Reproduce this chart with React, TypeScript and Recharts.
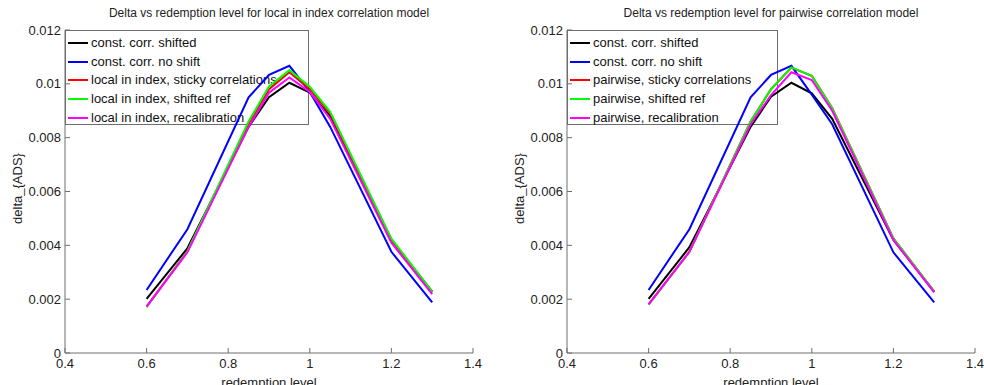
import React from 'react';
import { LineChart, Line, XAxis, YAxis } from 'recharts';

const LEVELS = [0.6, 0.7, 0.85, 0.9, 0.95, 1.0, 1.05, 1.2, 1.3];
const X_TICKS = [0.4, 0.6, 0.8, 1, 1.2, 1.4];
const Y_TICKS = [0, 0.002, 0.004, 0.006, 0.008, 0.01, 0.012];

// local in index correlation model
const LOCAL_CONST_SHIFTED = [0.00201, 0.00389, 0.0084, 0.0095, 0.01004, 0.00967, 0.0088, 0.0042, 0.00228];
const LOCAL_CONST_NO_SHIFT = [0.00234, 0.0046, 0.0095, 0.01033, 0.01067, 0.0097, 0.0084, 0.00376, 0.00188];
const LOCAL_STICKY = [0.00172, 0.00378, 0.0085, 0.0098, 0.01043, 0.0098, 0.0089, 0.0042, 0.00225];
const LOCAL_SHIFTED_REF = [0.0017, 0.00378, 0.0086, 0.0099, 0.01051, 0.00989, 0.00896, 0.00425, 0.00228];
const LOCAL_RECALIB = [0.00172, 0.00374, 0.0084, 0.00967, 0.01024, 0.0097, 0.0087, 0.0041, 0.00219];

// pairwise correlation model
const PAIR_CONST_SHIFTED = [0.00201, 0.00393, 0.0084, 0.00952, 0.01004, 0.00965, 0.0087, 0.0042, 0.00228];
const PAIR_CONST_NO_SHIFT = [0.00234, 0.0046, 0.0095, 0.01033, 0.01067, 0.0096, 0.0085, 0.00374, 0.00188];
const PAIR_STICKY = [0.00181, 0.00376, 0.0086, 0.0098, 0.0106, 0.0103, 0.0091, 0.00426, 0.00228];
const PAIR_SHIFTED_REF = [0.0018, 0.00376, 0.0086, 0.0098, 0.01061, 0.01029, 0.00909, 0.00426, 0.00228];
const PAIR_RECALIB = [0.00181, 0.00376, 0.0085, 0.00958, 0.01043, 0.01014, 0.009, 0.0042, 0.00225];

const COLORS = ['#000000', '#0000ff', '#ff0000', '#00ff00', '#ff00ff'];
const FONT = '"Liberation Sans", Arial, sans-serif';
const AXIS = '#6e6e6e';

const build = (series: number[][]) =>
  LEVELS.map((x, i) => {
    const row: Record<string, number> = { x };
    series.forEach((s, k) => { row['s' + k] = s[i]; });
    return row;
  });

interface PanelProps {
  left: number;
  width: number;
  marginRight: number;
  title: string;
  names: string[];
  series: number[][];
  legendWidth: number;
}

function Panel({ left, width, marginRight, title, names, series, legendWidth }: PanelProps) {
  const data = build(series);
  const plotW = width - 65 - marginRight;
  const cx = 65 + plotW / 2;
  const tick = { fill: '#222', fontSize: 13, fontFamily: FONT };
  return (
    <div style={{ position: 'absolute', left, top: 0, width, height: 385, fontFamily: FONT }}>
      <div style={{ position: 'absolute', left: 0, width: cx * 2, top: 6, textAlign: 'center', fontSize: 12, color: '#222', whiteSpace: 'nowrap' }}>
        {title}
      </div>
      <div style={{ position: 'absolute', left: 17 - 60, top: 190 - 9, width: 120, textAlign: 'center', fontSize: 13, color: '#222', transform: 'rotate(-90deg)' }}>
        delta_{'{ADS}'}
      </div>
      <div style={{ position: 'absolute', left: 0, width: cx * 2, top: 375, textAlign: 'center', fontSize: 13, color: '#222' }}>
        redemption level
      </div>
      <div style={{ position: 'absolute', left: 65, top: 30, width: legendWidth, height: 95, border: `1px solid ${AXIS}`, boxSizing: 'border-box', paddingTop: 3 }}>
        {names.map((n, i) => (
          <div key={n} style={{ position: 'relative', height: 18.65, fontSize: 13, color: '#111', whiteSpace: 'nowrap' }}>
            <span style={{ position: 'absolute', left: 2, top: 8, width: 20, height: 2, background: COLORS[i] }} />
            <span style={{ position: 'absolute', left: 25, top: 1, lineHeight: '16px' }}>{n}</span>
          </div>
        ))}
      </div>
      <LineChart width={width} height={385} data={data} margin={{ top: 30, right: marginRight, left: 0, bottom: 0 }}>
        <XAxis dataKey="x" type="number" domain={[0.4, 1.4]} ticks={X_TICKS} height={32}
          stroke={AXIS} tick={tick} tickSize={-5} tickMargin={11} allowDataOverflow />
        <XAxis xAxisId="top" dataKey="x" type="number" orientation="top" domain={[0.4, 1.4]} ticks={X_TICKS} height={0}
          stroke={AXIS} tick={false} tickSize={-5} />
        <YAxis type="number" domain={[0, 0.012]} ticks={Y_TICKS} width={65}
          stroke={AXIS} tick={tick} tickSize={-5} tickMargin={9} />
        <YAxis yAxisId="right" orientation="right" type="number" domain={[0, 0.012]} ticks={Y_TICKS} width={0}
          stroke={AXIS} tick={false} tickSize={-5} />
        {series.map((_, k) => (
          <Line key={k} type="linear" dataKey={'s' + k} stroke={COLORS[k]} strokeWidth={2}
            dot={false} isAnimationActive={false} />
        ))}
      </LineChart>
    </div>
  );
}

export default function App() {
  return (
    <div style={{ position: 'absolute', left: 0, top: 0, width: 984, height: 385, background: '#fff', overflow: 'hidden' }}>
      <Panel
        left={0}
        width={500}
        marginRight={27}
        title="Delta vs redemption level for local in index correlation model"
        names={['const. corr. shifted', 'const. corr. no shift', 'local in index, sticky correlations', 'local in index, shifted ref', 'local in index, recalibration']}
        series={[LOCAL_CONST_SHIFTED, LOCAL_CONST_NO_SHIFT, LOCAL_STICKY, LOCAL_SHIFTED_REF, LOCAL_RECALIB]}
        legendWidth={244}
      />
      <Panel
        left={502}
        width={482}
        marginRight={9}
        title="Delta vs redemption level for pairwise correlation model"
        names={['const. corr. shifted', 'const. corr. no shift', 'pairwise, sticky correlations', 'pairwise, shifted ref', 'pairwise, recalibration']}
        series={[PAIR_CONST_SHIFTED, PAIR_CONST_NO_SHIFT, PAIR_STICKY, PAIR_SHIFTED_REF, PAIR_RECALIB]}
        legendWidth={211}
      />
    </div>
  );
}
